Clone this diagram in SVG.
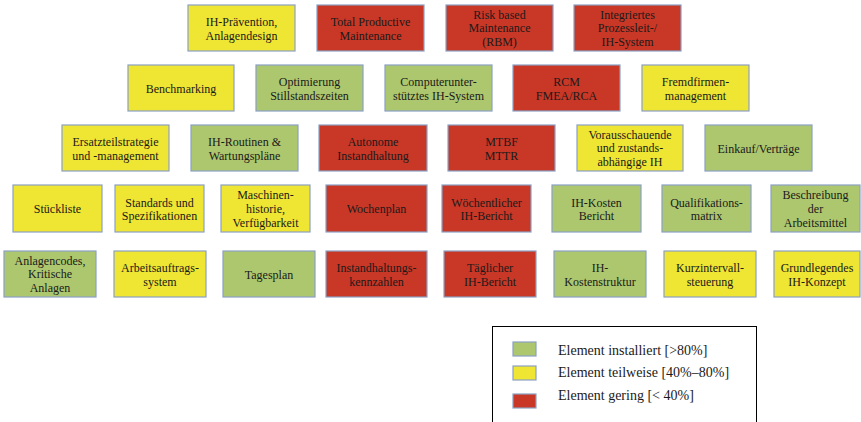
<svg xmlns="http://www.w3.org/2000/svg" width="861" height="422" viewBox="0 0 861 422">
<style>
rect.b{stroke:#8aa0c4;stroke-width:1.2}
.y{fill:#efe533}
.r{fill:#c93726}
.g{fill:#adc76e}
text{font-family:"Liberation Serif","Times New Roman",serif;font-size:12px;fill:#1a1a1a;text-anchor:middle}
text.lg{font-size:14px;text-anchor:start}
</style>
<rect width="861" height="422" fill="#ffffff"/>
<g id="nodes">
<g id="n-ih-praevention"><rect class="b y" x="188" y="5" width="107" height="46"/><text x="241.5" y="26">IH-Prävention,</text><text x="241.5" y="39.5">Anlagendesign</text></g>
<g id="n-tpm"><rect class="b r" x="317" y="5" width="107" height="46"/><text x="370.5" y="26">Total Productive</text><text x="370.5" y="39.5">Maintenance</text></g>
<g id="n-rbm"><rect class="b r" x="446" y="5" width="107" height="46"/><text x="499.5" y="18.5">Risk based</text><text x="499.5" y="32.3">Maintenance</text><text x="499.5" y="46">(RBM)</text></g>
<g id="n-prozessleit"><rect class="b r" x="574" y="5" width="107" height="46"/><text x="627.5" y="18.5">Integriertes</text><text x="627.5" y="32.3">Prozessleit-/</text><text x="627.5" y="46">IH-System</text></g>

<g id="n-benchmarking"><rect class="b y" x="128" y="65" width="106" height="46"/><text x="181" y="93">Benchmarking</text></g>
<g id="n-optimierung"><rect class="b g" x="256" y="65" width="107" height="46"/><text x="309.5" y="86.3">Optimierung</text><text x="309.5" y="100">Stillstandszeiten</text></g>
<g id="n-computer"><rect class="b g" x="385" y="65" width="107" height="46"/><text x="438.5" y="86.3">Computerunter-</text><text x="438.5" y="100">stütztes IH-System</text></g>
<g id="n-rcm"><rect class="b r" x="513" y="65" width="107" height="46"/><text x="566.5" y="86.3">RCM</text><text x="566.5" y="100">FMEA/RCA</text></g>
<g id="n-fremdfirmen"><rect class="b y" x="642" y="65" width="107" height="46"/><text x="695.5" y="86.3">Fremdfirmen-</text><text x="695.5" y="100">management</text></g>

<g id="n-ersatzteil"><rect class="b y" x="62" y="125" width="107" height="46"/><text x="115.5" y="146.3">Ersatzteilstrategie</text><text x="115.5" y="160">und -management</text></g>
<g id="n-routinen"><rect class="b g" x="191" y="125" width="107" height="46"/><text x="244.5" y="146.3">IH-Routinen &amp;</text><text x="244.5" y="160">Wartungspläne</text></g>
<g id="n-autonome"><rect class="b r" x="319" y="125" width="108" height="46"/><text x="373" y="146.3">Autonome</text><text x="373" y="160">Instandhaltung</text></g>
<g id="n-mtbf"><rect class="b r" x="448" y="125" width="107" height="46"/><text x="501.5" y="146.3">MTBF</text><text x="501.5" y="160">MTTR</text></g>
<g id="n-vorausschauend"><rect class="b y" x="577" y="125" width="106" height="46"/><text x="630" y="138.5">Vorausschauende</text><text x="630" y="152.3">und zustands-</text><text x="630" y="166">abhängige IH</text></g>
<g id="n-einkauf"><rect class="b g" x="705" y="125" width="107" height="46"/><text x="758.5" y="153">Einkauf/Verträge</text></g>

<g id="n-stueckliste"><rect class="b y" x="13" y="185" width="89" height="47"/><text x="57.5" y="213">Stückliste</text></g>
<g id="n-standards"><rect class="b y" x="115" y="185" width="89" height="47"/><text x="159.5" y="206.5">Standards und</text><text x="159.5" y="220">Spezifikationen</text></g>
<g id="n-maschinen"><rect class="b y" x="221" y="185" width="89" height="47"/><text x="265.5" y="199">Maschinen-</text><text x="265.5" y="212.8">historie,</text><text x="265.5" y="226.5">Verfügbarkeit</text></g>
<g id="n-wochenplan"><rect class="b r" x="326" y="185" width="101" height="47"/><text x="376.5" y="213">Wochenplan</text></g>
<g id="n-woechentlich"><rect class="b r" x="442" y="185" width="89" height="47"/><text x="486.5" y="206.5">Wöchentlicher</text><text x="486.5" y="220">IH-Bericht</text></g>
<g id="n-kosten-bericht"><rect class="b g" x="552" y="185" width="89" height="47"/><text x="596.5" y="206.5">IH-Kosten</text><text x="596.5" y="220">Bericht</text></g>
<g id="n-qualifikation"><rect class="b g" x="662" y="185" width="89" height="47"/><text x="706.5" y="206.5">Qualifikations-</text><text x="706.5" y="220">matrix</text></g>
<g id="n-beschreibung"><rect class="b g" x="771" y="185" width="89" height="47"/><text x="815.5" y="199">Beschreibung</text><text x="815.5" y="212.8">der</text><text x="815.5" y="226.5">Arbeitsmittel</text></g>

<g id="n-anlagencodes"><rect class="b g" x="4" y="251" width="92" height="46"/><text x="50" y="264.5">Anlagencodes,</text><text x="50" y="278.3">Kritische</text><text x="50" y="292">Anlagen</text></g>
<g id="n-arbeitsauftrag"><rect class="b y" x="114" y="251" width="92" height="46"/><text x="160" y="272.3">Arbeitsauftrags-</text><text x="160" y="286">system</text></g>
<g id="n-tagesplan"><rect class="b g" x="223" y="251" width="92" height="46"/><text x="269" y="279">Tagesplan</text></g>
<g id="n-kennzahlen"><rect class="b r" x="326" y="251" width="101" height="46"/><text x="376.5" y="272.3">Instandhaltungs-</text><text x="376.5" y="286">kennzahlen</text></g>
<g id="n-taeglich"><rect class="b r" x="444" y="251" width="92" height="46"/><text x="490" y="272.3">Täglicher</text><text x="490" y="286">IH-Bericht</text></g>
<g id="n-kostenstruktur"><rect class="b g" x="554" y="251" width="92" height="46"/><text x="600" y="272.3">IH-</text><text x="600" y="286">Kostenstruktur</text></g>
<g id="n-kurzintervall"><rect class="b y" x="664" y="251" width="92" height="46"/><text x="710" y="272.3">Kurzintervall-</text><text x="710" y="286">steuerung</text></g>
<g id="n-grundlegend"><rect class="b y" x="774" y="251" width="86" height="46"/><text x="817" y="272.3">Grundlegendes</text><text x="817" y="286">IH-Konzept</text></g>
</g>
<g id="connectors"></g>
<g id="legend">
<rect x="492.5" y="326.5" width="264" height="110" fill="#ffffff" stroke="#000000" stroke-width="1"/>
<rect class="b g" x="513" y="342" width="23" height="14"/>
<rect class="b y" x="513" y="366" width="23" height="14"/>
<rect class="b r" x="513" y="394" width="23" height="14"/>
<text class="lg" x="558" y="355">Element installiert [&gt;80%]</text>
<text class="lg" x="558" y="377">Element teilweise [40%–80%]</text>
<text class="lg" x="558" y="400">Element gering [&lt; 40%]</text>
</g>
</svg>
